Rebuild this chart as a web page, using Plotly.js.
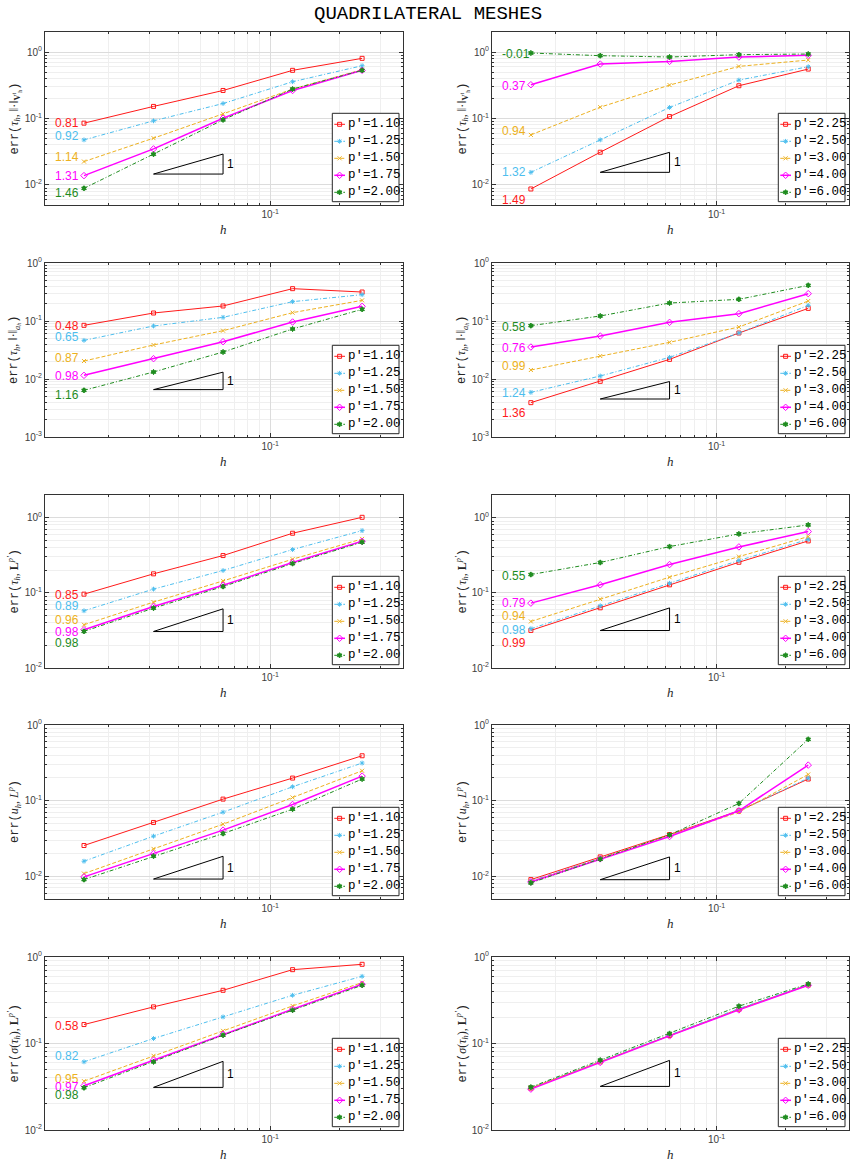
<!DOCTYPE html>
<html>
<head>
<meta charset="utf-8">
<script src="https://cdn.plot.ly/plotly-3.0.1.min.js"></script>
<style>html,body{margin:0;padding:0;background:#fff}</style>
</head>
<body>
<div id="chart" style="width:856px;height:1166px"></div>
<script>
// ---------------- data ----------------
const meshSizes = [0.015625, 0.03125, 0.0625, 0.125, 0.25];

const pLow  = ['1.10', '1.25', '1.50', '1.75', '2.00'];
const pHigh = ['2.25', '2.50', '3.00', '4.00', '6.00'];

// err(tau_h, ||.||_V) — rows: one per p', columns: one per h
const errTauVLow = [
  [0.0851, 0.152, 0.264, 0.530, 0.803],
  [0.0477, 0.0922, 0.168, 0.357, 0.622],
  [0.0225, 0.0506, 0.1175, 0.277, 0.542],
  [0.01383, 0.0349, 0.101, 0.264, 0.530],
  [0.00891, 0.0290, 0.0955, 0.277, 0.530]
];
const errTauVHigh = [
  [0.00871, 0.0311, 0.107, 0.311, 0.554],
  [0.0155, 0.0477, 0.1465, 0.378, 0.601],
  [0.0567, 0.148, 0.318, 0.608, 0.757],
  [0.322, 0.659, 0.723, 0.841, 0.891],
  [0.966, 0.881, 0.841, 0.912, 0.933]
];

// err(tau_h, ||.||_a)
const errTauALow = [
  [0.0842, 0.1374, 0.1816, 0.361, 0.316],
  [0.0464, 0.0820, 0.1157, 0.2155, 0.2845],
  [0.0204, 0.0386, 0.0681, 0.1393, 0.227],
  [0.01156, 0.02243, 0.0440, 0.0961, 0.179],
  [0.00638, 0.0132, 0.0292, 0.0728, 0.159]
];
const errTauAHigh = [
  [0.00391, 0.00912, 0.0218, 0.0621, 0.165],
  [0.00589, 0.01127, 0.0236, 0.0621, 0.186],
  [0.01429, 0.0249, 0.0429, 0.0788, 0.221],
  [0.0356, 0.0551, 0.0948, 0.1337, 0.296],
  [0.0831, 0.122, 0.204, 0.2364, 0.412]
];

// err(tau_h, L^p')
const errTauLLow = [
  [0.0960, 0.1788, 0.313, 0.620, 1.01],
  [0.0577, 0.112, 0.198, 0.376, 0.672],
  [0.0376, 0.0752, 0.144, 0.280, 0.521],
  [0.0323, 0.0659, 0.1264, 0.253, 0.485],
  [0.0307, 0.0625, 0.1213, 0.245, 0.471]
];
const errTauLHigh = [
  [0.0316, 0.0632, 0.1277, 0.255, 0.490],
  [0.0333, 0.0672, 0.134, 0.269, 0.515],
  [0.0416, 0.0824, 0.1614, 0.303, 0.560],
  [0.0729, 0.1277, 0.2376, 0.408, 0.652],
  [0.175, 0.253, 0.412, 0.607, 0.800]
];

// err(u_h, L^p)
const errULow = [
  [0.0255, 0.0514, 0.1047, 0.1987, 0.392],
  [0.0158, 0.0339, 0.0704, 0.1525, 0.314],
  [0.01085, 0.0230, 0.0488, 0.110, 0.248],
  [0.0098, 0.01995, 0.0407, 0.0889, 0.211],
  [0.00903, 0.0184, 0.0367, 0.0771, 0.193]
];
const errUHigh = [
  [0.00903, 0.01803, 0.0356, 0.0733, 0.193],
  [0.00867, 0.0173, 0.0346, 0.0726, 0.1987],
  [0.00850, 0.01714, 0.0342, 0.0704, 0.222],
  [0.00841, 0.01697, 0.0335, 0.0733, 0.295],
  [0.00816, 0.01679, 0.0353, 0.0917, 0.646]
];

// err(sigma(tau_h), L^p')
const errSigmaLow = [
  [0.1656, 0.265, 0.412, 0.714, 0.823],
  [0.0614, 0.1142, 0.203, 0.361, 0.598],
  [0.0367, 0.0721, 0.140, 0.272, 0.506],
  [0.0325, 0.0642, 0.128, 0.249, 0.484],
  [0.0308, 0.0614, 0.1248, 0.2425, 0.471]
];
const errSigmaHigh = [
  [0.0305, 0.0614, 0.1237, 0.249, 0.475],
  [0.0308, 0.0625, 0.126, 0.2535, 0.480],
  [0.0304, 0.0608, 0.1228, 0.247, 0.471],
  [0.0297, 0.0604, 0.1225, 0.2445, 0.471],
  [0.0313, 0.0642, 0.1304, 0.270, 0.488]
];

// convergence rates printed next to the finest mesh
const rateTauVLow   = ['0.81', '0.92', '1.14', '1.31', '1.46'];
const rateTauVHigh  = ['1.49', '1.32', '0.94', '0.37', '-0.01'];
const rateTauALow   = ['0.48', '0.65', '0.87', '0.98', '1.16'];
const rateTauAHigh  = ['1.36', '1.24', '0.99', '0.76', '0.58'];
const rateTauLLow   = ['0.85', '0.89', '0.96', '0.98', '0.98'];
const rateTauLHigh  = ['0.99', '0.98', '0.94', '0.79', '0.55'];
const rateSigmaLow  = ['0.58', '0.82', '0.95', '0.97', '0.98'];

// base of the slope-1 reference triangle in each panel
const triangleBase = [0.0146, 0.0155, 0.00656, 0.00452, 0.0306, 0.0315, 0.00918, 0.0090, 0.0311, 0.0319];

// axis ticks
const xTickVals = [0.1];
const xTickText = ['10<sup>-1</sup>'];
const yTickVals = [1, 0.1, 0.01, 0.001];
const yTickText = ['10<sup>0</sup>', '10<sup>-1</sup>', '10<sup>-2</sup>', '10<sup>-3</sup>'];

// ---------------- styling ----------------
const W = 856, H = 1166;
const seriesColor  = ['#ff1a1a', '#4dbeee', '#edb120', '#ff00ff', '#1e8c1e'];
const seriesDash   = ['solid', '4px,2px,1px,2px', '4px,2px', 'solid', '4px,2px,1px,2px'];
const seriesSymbol = ['square-open', 'asterisk-open', 'x-thin-open', 'diamond-open', 'hexagram'];
const seriesWidth  = [1, 1, 1, 1.5, 1];
const seriesMSize  = [4, 4, 4, 5, 4];

const colPx = [[45, 403], [492, 849]];
const rowPx = [[32, 205], [263, 437], [495, 668], [725, 899], [957, 1130]];
const rowYRange = [[-2.301, 0.301], [-3, 0], [-2, 0.301], [-2.301, 0], [-2, 0]];
const xRange = [-1.975, -0.425];

// vertical nudges (px) of the rate labels so they do not collide
const shiftTauVLow  = [0, 4, 5, 0, -5];
const shiftTauVHigh = [-11, 0, 4, -1, -1];
const shiftTauALow  = [-1, 3, 3, -1, -5];
const shiftTauAHigh = [-10, -1, 4, -1, -1];
const shiftTauLLow  = [-1, 5, 5, -2, -12];
const shiftTauLHigh = [-13, -1, 5, 0, -1];
const shiftSigmaLow = [-1, 6, 2, -1, -7];

const serif = s => '<span style="font-family:Liberation Serif">' + s + '</span>';
const rowTitles = [
  'err(' + serif('<i>τ<sub>h</sub></i>, ‖·‖<sub><b>V</b><sup>t</sup><sub>h</sub></sub>') + ')',
  'err(' + serif('<i>τ<sub>h</sub></i>, ‖·‖<sub><i>a<sub>h</sub></i></sub>') + ')',
  'err(' + serif('<i>τ<sub>h</sub></i>, <b>L</b><sup><i>p′</i></sup>') + ')',
  'err(' + serif('<i>u<sub>h</sub></i>, <i>L<sup>p</sup></i>') + ')',
  'err(' + serif('<i>σ</i>(<i>τ<sub>h</sub></i>), <b>L</b><sup><i>p′</i></sup>') + ')'
];

const panels = [
  {vals: errTauVLow,   p: pLow,  rates: rateTauVLow,  shift: shiftTauVLow},
  {vals: errTauVHigh,  p: pHigh, rates: rateTauVHigh, shift: shiftTauVHigh},
  {vals: errTauALow,   p: pLow,  rates: rateTauALow,  shift: shiftTauALow},
  {vals: errTauAHigh,  p: pHigh, rates: rateTauAHigh, shift: shiftTauAHigh},
  {vals: errTauLLow,   p: pLow,  rates: rateTauLLow,  shift: shiftTauLLow},
  {vals: errTauLHigh,  p: pHigh, rates: rateTauLHigh, shift: shiftTauLHigh},
  {vals: errULow,      p: pLow,  rates: null, shift: null},
  {vals: errUHigh,     p: pHigh, rates: null, shift: null},
  {vals: errSigmaLow,  p: pLow,  rates: rateSigmaLow, shift: shiftSigmaLow},
  {vals: errSigmaHigh, p: pHigh, rates: null, shift: null}
];

const axisFont = {family: 'Liberation Sans, Arial, sans-serif', size: 10, color: '#404040'};
const frameColor = '#333333';

function minorVals(lo, hi) {
  const out = [];
  for (let d = Math.floor(lo); d <= Math.ceil(hi); d++) {
    for (let k = 2; k <= 9; k++) {
      const v = k * Math.pow(10, d);
      const l = Math.log10(v);
      if (l > lo && l < hi) out.push(v);
    }
  }
  return out;
}

const traces = [];
const layout = {
  width: W, height: H,
  margin: {l: 0, r: 0, t: 0, b: 0},
  showlegend: false,
  paper_bgcolor: '#ffffff',
  plot_bgcolor: '#ffffff',
  hovermode: false,
  annotations: [],
  shapes: []
};

layout.annotations.push({
  xref: 'paper', yref: 'paper', x: 0.5, y: 1 - 14 / H,
  xanchor: 'center', yanchor: 'middle', showarrow: false,
  text: 'QUADRILATERAL MESHES',
  font: {family: 'Liberation Mono, Courier New, monospace', size: 19, color: '#000000'}
});

panels.forEach((pc, i) => {
  const n = i + 1;
  const suf = n === 1 ? '' : String(n);
  const xa = 'x' + suf, ya = 'y' + suf;
  const r = Math.floor(i / 2), c = i % 2;
  const [px0, px1] = colPx[c];
  const [py0, py1] = rowPx[r];
  const yr = rowYRange[r];

  // pixel -> data value inside this panel
  const toX = px => Math.pow(10, xRange[0] + (px - px0) / (px1 - px0) * (xRange[1] - xRange[0]));
  const toY = py => Math.pow(10, yr[1] - (py - py0) / (py1 - py0) * (yr[1] - yr[0]));

  const yTicks = yTickVals.filter(v => Math.log10(v) >= yr[0] - 1e-6 && Math.log10(v) <= yr[1] + 1e-6);
  const yTexts = yTickText.filter((t, k) => yTicks.indexOf(yTickVals[k]) >= 0);

  const common = {
    type: 'log', showline: true, linecolor: frameColor, linewidth: 1, mirror: 'ticks',
    ticks: 'inside', ticklen: 4, tickcolor: frameColor, tickwidth: 1,
    showgrid: true, gridcolor: '#dcdcdc', gridwidth: 1, zeroline: false,
    tickfont: axisFont, tickmode: 'array', fixedrange: true
  };
  layout['xaxis' + suf] = Object.assign({}, common, {
    domain: [px0 / W, px1 / W], anchor: ya, range: xRange.slice(),
    tickvals: xTickVals, ticktext: xTickText,
    minor: {tickmode: 'array', tickvals: minorVals(xRange[0], xRange[1]), ticks: 'inside', ticklen: 2,
            tickcolor: frameColor, showgrid: true, gridcolor: '#efefef', gridwidth: 1}
  });
  layout['yaxis' + suf] = Object.assign({}, common, {
    domain: [1 - py1 / H, 1 - py0 / H], anchor: xa, range: yr.slice(),
    tickvals: yTicks, ticktext: yTexts,
    minor: {tickmode: 'array', tickvals: minorVals(yr[0], yr[1]), ticks: 'inside', ticklen: 2,
            tickcolor: frameColor, showgrid: true, gridcolor: '#efefef', gridwidth: 1}
  });

  // error curves
  pc.vals.forEach((vals, k) => {
    traces.push({
      x: meshSizes, y: vals, xaxis: xa, yaxis: ya, type: 'scatter', mode: 'lines+markers',
      line: {color: seriesColor[k], width: seriesWidth[k], dash: seriesDash[k]},
      marker: {symbol: seriesSymbol[k], size: seriesMSize[k], color: seriesColor[k],
               line: {color: seriesColor[k], width: 1}},
      cliponaxis: false
    });
  });

  // slope-1 reference triangle between the 2nd and 3rd mesh sizes
  const t0 = triangleBase[i];
  const hA = meshSizes[1], hB = meshSizes[2];
  traces.push({
    x: [hA, hB, hB, hA], y: [t0, t0, t0 * hB / hA, t0], xaxis: xa, yaxis: ya,
    type: 'scatter', mode: 'lines', line: {color: '#000000', width: 1}
  });
  layout.annotations.push({
    xref: xa, yref: ya, x: Math.log10(hB), y: Math.log10(t0 * Math.sqrt(hB / hA)),
    xanchor: 'left', yanchor: 'middle', xshift: 2, showarrow: false, text: '1',
    font: {family: 'Liberation Sans, Arial, sans-serif', size: 12, color: '#000000'}
  });

  // rate labels, left-aligned in a column before the finest-mesh point
  if (pc.rates) {
    pc.rates.forEach((txt, k) => {
      layout.annotations.push({
        xref: xa, yref: ya, x: Math.log10(meshSizes[0]), y: Math.log10(pc.vals[k][0]),
        xanchor: 'left', yanchor: 'middle', xshift: -30.5, yshift: pc.shift[k],
        showarrow: false, text: txt,
        font: {family: 'Liberation Sans, Arial, sans-serif', size: 12, color: seriesColor[k]}
      });
    });
  }

  // legend box in the lower right corner
  const bw = 66.7, bh = 88.4;
  const bR = px1 - 4, bB = py1 - 3.3, bL = bR - bw, bT = bB - bh;
  traces.push({
    x: [toX(bL), toX(bR), toX(bR), toX(bL), toX(bL)],
    y: [toY(bT), toY(bT), toY(bB), toY(bB), toY(bT)],
    xaxis: xa, yaxis: ya, type: 'scatter', mode: 'lines', fill: 'toself',
    fillcolor: '#ffffff', line: {color: '#262626', width: 1}
  });
  pc.p.forEach((lab, k) => {
    const cy = bT + 11 + 17 * k;
    traces.push({
      x: [toX(bL + 2), toX(bL + 12.7)], y: [toY(cy), toY(cy)], xaxis: xa, yaxis: ya,
      type: 'scatter', mode: 'lines',
      line: {color: seriesColor[k], width: seriesWidth[k], dash: seriesDash[k]}
    });
    traces.push({
      x: [toX(bL + 7.3)], y: [toY(cy)], xaxis: xa, yaxis: ya, type: 'scatter', mode: 'markers',
      marker: {symbol: seriesSymbol[k], size: seriesMSize[k], color: seriesColor[k],
               line: {color: seriesColor[k], width: 1}}
    });
    layout.annotations.push({
      xref: xa, yref: ya, x: Math.log10(toX(bL + 13.2)), y: Math.log10(toY(cy)),
      xanchor: 'left', yanchor: 'middle', showarrow: false, text: "p'=" + lab,
      font: {family: 'Liberation Mono, Courier New, monospace', size: 12.5, color: '#000000'}
    });
  });

  // axis titles
  layout.annotations.push({
    xref: 'paper', yref: 'paper', x: (c === 0 ? 14 : 462) / W, y: 1 - (py0 + py1) / 2 / H,
    xanchor: 'center', yanchor: 'middle', textangle: -90, showarrow: false,
    text: rowTitles[r],
    font: {family: 'Liberation Mono, Courier New, monospace', size: 12, color: '#262626'}
  });
  layout.annotations.push({
    xref: 'paper', yref: 'paper', x: (px0 + px1) / 2 / W, y: 1 - (py1 + 24) / H,
    xanchor: 'center', yanchor: 'middle', showarrow: false,
    text: '<i>h</i>',
    font: {family: 'Liberation Serif, Times New Roman, serif', size: 13, color: '#262626'}
  });
});

Plotly.newPlot('chart', traces, layout, {staticPlot: true, displayModeBar: false});
</script>
</body>
</html>
